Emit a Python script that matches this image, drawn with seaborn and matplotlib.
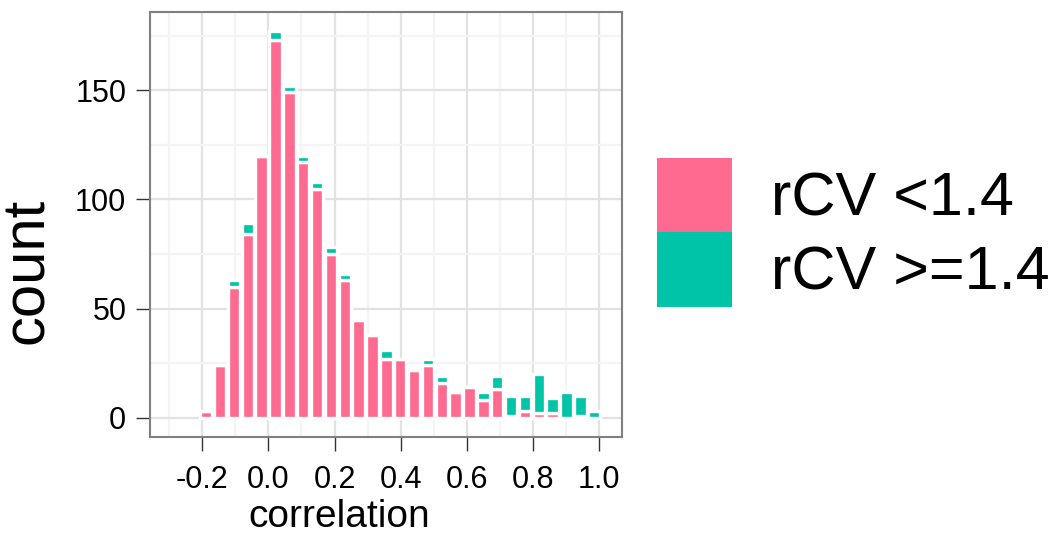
import numpy as np
import pandas as pd
import matplotlib
matplotlib.use("Agg")
import matplotlib.pyplot as plt
from matplotlib.patches import Patch
from matplotlib.ticker import MultipleLocator, FixedLocator
import seaborn as sns

# Histogram bins of the correlation values
bin_start = -0.209
bin_width = 0.0419
n_bins = 29

# Counts per bin for each rCV group
low_counts = [3, 24, 60, 84, 120, 173, 149, 117, 105, 75, 63, 45, 38, 27, 27,
              22, 24, 16, 12, 14, 8, 13, 1, 3, 2, 2, 0, 1, 0]
high_counts = [0, 0, 3, 5, 0, 4, 3, 3, 3, 3, 3, 0, 0, 4, 0,
               0, 3, 3, 0, 0, 4, 6, 9, 7, 18, 7, 12, 9, 3]

group_labels = ["rCV <1.4", "rCV >=1.4"]
group_colors = ["#FF6A90", "#00C4A8"]

x_ticks = [-0.2, 0.0, 0.2, 0.4, 0.6, 0.8, 1.0]
x_tick_labels = ["-0.2", "0.0", "0.2", "0.4", "0.6", "0.8", "1.0"]
y_ticks = [0, 50, 100, 150]
y_tick_labels = ["0", "50", "100", "150"]

edges = [bin_start + bin_width * i for i in range(n_bins + 1)]
centers = [(a + b) / 2 for a, b in zip(edges[:-1], edges[1:])]

df = pd.DataFrame({
    "correlation": centers + centers,
    "count": low_counts + high_counts,
    "group": [group_labels[0]] * n_bins + [group_labels[1]] * n_bins,
})

sns.set_theme(style="white")
plt.rcParams["font.family"] = ["Liberation Sans", "DejaVu Sans"]
plt.rcParams["text.color"] = "black"
plt.rcParams["axes.labelcolor"] = "black"

fig = plt.figure(figsize=(10.56, 5.35), dpi=100)
ax = fig.add_axes([0.142, 0.183, 0.447, 0.7945])

palette = dict(zip(group_labels, group_colors))
sns.histplot(
    data=df, x="correlation", weights="count", hue="group",
    hue_order=[group_labels[1], group_labels[0]], palette=palette,
    bins=edges, multiple="stack", alpha=1, edgecolor="white",
    linewidth=2.4, shrink=0.9, legend=False, ax=ax,
)

ax.set_xlim(-0.358, 1.069)
ax.set_ylim(-8.85, 185.85)

ax.xaxis.set_major_locator(FixedLocator(x_ticks))
ax.set_xticklabels(x_tick_labels)
ax.yaxis.set_major_locator(FixedLocator(y_ticks))
ax.set_yticklabels(y_tick_labels)
ax.xaxis.set_minor_locator(MultipleLocator(0.1))
ax.yaxis.set_minor_locator(MultipleLocator(25))

ax.set_axisbelow(True)
ax.grid(which="major", color="#E2E2E2", linewidth=1.6)
ax.grid(which="minor", color="#F4F4F4", linewidth=1.6)

for spine in ax.spines.values():
    spine.set_color("#808080")
    spine.set_linewidth(1.5)

ax.tick_params(which="major", length=10, width=1, color="#333333",
               labelsize=22, labelcolor="black",
               bottom=True, left=True)
ax.tick_params(axis="x", which="major", pad=10)
ax.tick_params(axis="y", which="major", pad=7)
ax.tick_params(which="minor", length=0)

ax.set_xlabel("correlation", fontsize=28, color="black")
ax.set_ylabel("count", fontsize=43, color="black")
ax.xaxis.set_label_coords(0.401, -0.146)
ax.yaxis.set_label_coords(-0.202, 0.392)

handles = [Patch(facecolor=c, edgecolor="none") for c in group_colors]
fig.legend(handles, group_labels, loc="upper left",
           bbox_to_anchor=(0.622, 0.705), frameon=False, fontsize=44,
           handlelength=1.23, handleheight=1.50, handletextpad=0.64,
           labelspacing=0, borderpad=0, borderaxespad=0)

fig.savefig("out.png", dpi=100)
